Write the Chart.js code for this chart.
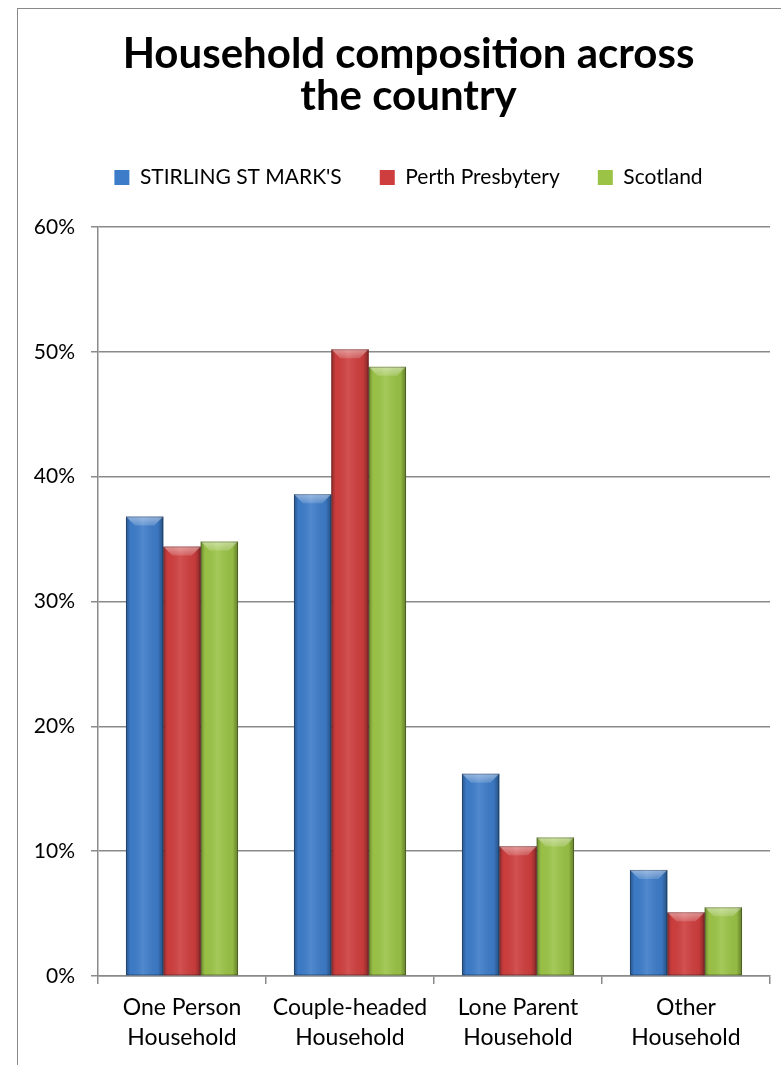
<!DOCTYPE html>
<html>
<head>
<meta charset="utf-8">
<script src="https://cdn.jsdelivr.net/npm/chart.js@4/dist/chart.umd.min.js"></script>
<style>
  html, body { margin: 0; padding: 0; background: #fff; overflow: hidden; }
  #wrap { position: relative; width: 800px; height: 1065px; }
  #frame {
    position: absolute; left: 17px; top: 8px; width: 900px; height: 1200px;
    border: 1.5px solid #8a8a8a; box-sizing: border-box; pointer-events: none;
  }
</style>
</head>
<body>
<div id="wrap">
  <div id="frame"></div>
  <canvas id="chart"></canvas>
</div>
<script>
const categories = [
  ["One Person", "Household"],
  ["Couple-headed", "Household"],
  ["Lone Parent", "Household"],
  ["Other", "Household"],
];
const seriesNames = ["STIRLING ST MARK'S", "Perth Presbytery", "Scotland"];
const stirlingValues = [36.8, 38.6, 16.2, 8.5];
const perthValues = [34.4, 50.2, 10.4, 5.1];
const scotlandValues = [34.8, 48.8, 11.1, 5.5];
const yTicks = [0, 10, 20, 30, 40, 50, 60];

const FONT = "Lato, 'Open Sans', sans-serif";
const GRID = "#8a8a8a";
const COLORS = ["#3d7cc9", "#cf3e3e", "#9bc447"];

// excel-ish bevel on each bar, drawn over the plain fill
const bevel = {
  id: "bevel",
  afterDatasetsDraw(chart) {
    const ctx = chart.ctx;
    chart.data.datasets.forEach((ds, i) => {
      const meta = chart.getDatasetMeta(i);
      meta.data.forEach((bar) => {
        const { x, y, base, width } = bar.getProps(["x", "y", "base", "width"], true);
        const l = x - width / 2, r = x + width / 2, h = base - y;
        const d = Math.min(9, h / 2);
        ctx.save();
        const g = ctx.createLinearGradient(l, 0, r, 0);
        g.addColorStop(0, "rgba(0,0,0,0.30)");
        g.addColorStop(0.12, "rgba(0,0,0,0.02)");
        g.addColorStop(0.45, "rgba(255,255,255,0.10)");
        g.addColorStop(0.85, "rgba(0,0,0,0.05)");
        g.addColorStop(1, "rgba(0,0,0,0.36)");
        ctx.fillStyle = g;
        ctx.fillRect(l, y, width, h);
        // top bevel
        ctx.beginPath();
        ctx.moveTo(l, y);
        ctx.lineTo(r, y);
        ctx.lineTo(r - d, y + d);
        ctx.lineTo(l + d, y + d);
        ctx.closePath();
        const tg = ctx.createLinearGradient(0, y, 0, y + d);
        tg.addColorStop(0, "rgba(255,255,255,0.45)");
        tg.addColorStop(1, "rgba(255,255,255,0.15)");
        ctx.fillStyle = tg;
        ctx.fill();
        ctx.strokeStyle = "rgba(0,0,0,0.25)";
        ctx.lineWidth = 1;
        ctx.strokeRect(l + 0.5, y + 0.5, width - 1, h - 1);
        ctx.restore();
      });
    });
  },
};

new Chart(document.getElementById("chart"), {
  type: "bar",
  data: {
    labels: categories,
    datasets: [
      { label: seriesNames[0], data: stirlingValues, backgroundColor: COLORS[0] },
      { label: seriesNames[1], data: perthValues, backgroundColor: COLORS[1] },
      { label: seriesNames[2], data: scotlandValues, backgroundColor: COLORS[2] },
    ],
  },
  options: {
    responsive: true,
    maintainAspectRatio: false,
    animation: false,
    layout: { padding: { left: 17, right: 0, top: 0, bottom: 0 } },
    datasets: { bar: { categoryPercentage: 0.667, barPercentage: 1 } },
    plugins: {
      title: {
        display: true,
        text: ["Household composition across", "the country"],
        color: "#000",
        font: { family: FONT, size: 42, weight: "bold", lineHeight: 1.0 },
        padding: { top: 33, bottom: 12 },
      },
      legend: {
        display: true,
        position: "top",
        labels: {
          color: "#000",
          boxWidth: 15,
          boxHeight: 15,
          padding: 38,
          font: { family: FONT, size: 21 },
        },
      },
      tooltip: { enabled: false },
    },
    scales: {
      x: {
        grid: { offset: true, drawOnChartArea: false, drawTicks: true, tickLength: 8, color: GRID, lineWidth: 1.5 },
        border: { color: GRID, width: 1.5 },
        ticks: { color: "#000", padding: 9, font: { family: FONT, size: 23, lineHeight: 1.3 } },
        afterFit(scale) { scale.height = 89; },
      },
      // spacer between legend and plot
      xTop: {
        position: "top",
        display: true,
        grid: { display: false },
        border: { display: false },
        ticks: { display: false },
        afterFit(scale) { scale.height = 29; },
      },
      y: {
        min: 0,
        max: 60,
        afterBuildTicks(scale) { scale.ticks = yTicks.map((v) => ({ value: v })); },
        grid: { color: GRID, lineWidth: 1.5, tickLength: 7 },
        border: { color: GRID, width: 1.5 },
        ticks: { color: "#000", padding: 16, font: { family: FONT, size: 21 }, callback: (v) => v + "%" },
        afterFit(scale) { scale.width = 81; },
      },
      yRight: {
        position: "right",
        display: true,
        grid: { display: false },
        border: { display: false },
        ticks: { display: false },
        afterFit(scale) { scale.width = 30; },
      },
    },
  },
  plugins: [bevel],
});
</script>
</body>
</html>
